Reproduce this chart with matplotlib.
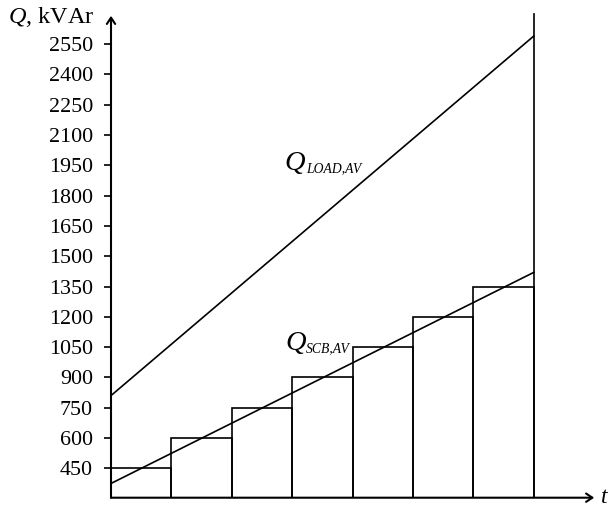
import matplotlib
matplotlib.use("Agg")
import matplotlib.pyplot as plt

plt.rcParams["font.family"] = ["Liberation Serif", "DejaVu Serif"]
plt.rcParams["mathtext.fontset"] = "custom"
plt.rcParams["mathtext.rm"] = "Liberation Serif"
plt.rcParams["mathtext.it"] = "Liberation Serif:italic"

# stepped SCB reactive power per interval (kVAr)
SCB_STEPS = [450, 600, 750, 900, 1050, 1200, 1350]
T_EDGES = [0, 1, 2, 3, 4, 5, 6]
# averaged trend lines (t, Q)
LOAD_AV_T = [0, 7]
LOAD_AV_Q = [810, 2590]
SCB_AV_T = [0, 7]
SCB_AV_Q = [375, 1420]
Y_TICKS = [450, 600, 750, 900, 1050, 1200, 1350, 1500, 1650, 1800,
           1950, 2100, 2250, 2400, 2550]

LW = 1.2
W, H = 612, 508

fig = plt.figure(figsize=(W / 100, H / 100), dpi=100)
ax = fig.add_axes([111 / W, 10.3 / H, 1 - 111 / W, 1 - 10.3 / H])
ymin = 304.5
px_per_q = 30.3 / 150
ax.set_ylim(ymin, ymin + 497.7 / px_per_q)
ax.set_xlim(0, 501 / 60.4)

for s in ax.spines.values():
    s.set_visible(False)

ax.bar(T_EDGES, [v - ymin for v in SCB_STEPS], width=1, align="edge",
       bottom=ymin, fill=False, edgecolor="black", linewidth=LW)
ax.plot([7, 7], [ymin, 2700], color="black", lw=LW)
ax.plot(LOAD_AV_T, LOAD_AV_Q, color="black", lw=LW)
ax.plot(SCB_AV_T, SCB_AV_Q, color="black", lw=LW)

arrow = dict(arrowstyle="->,head_length=0.45,head_width=0.3", lw=1.5,
             color="black", shrinkA=0, shrinkB=0)
ax.annotate("", xy=(0, 2690), xytext=(0, ymin), arrowprops=arrow,
            annotation_clip=False)
ax.annotate("", xy=(8.0, ymin), xytext=(0, ymin), arrowprops=arrow,
            annotation_clip=False)

ax.set_xticks([])
ax.set_yticks(Y_TICKS)
ax.tick_params(axis="y", direction="out", length=5, width=1.2,
               labelsize=15.8, pad=8)

ax.text(8.12, ymin, "t", style="italic", fontsize=17, ha="left", va="center")
fig.text(8 / W, 1 - 17 / H, "$Q$, kVAr", fontsize=17.5, ha="left",
         va="center")

# curve labels: big italic Q with a small italic subscript
ax.text(2.864, 1925, "Q", style="italic", fontsize=20.5, ha="left",
        va="baseline")
ax.text(3.23, 1915, "LOAD,AV", style="italic", fontsize=9.8, ha="left",
        va="baseline")
ax.text(2.88, 1036, "Q", style="italic", fontsize=20.5, ha="left",
        va="baseline")
ax.text(3.22, 1026, "SCB,AV", style="italic", fontsize=9.8, ha="left",
        va="baseline")

fig.savefig("out.png", dpi=100, facecolor="white")
